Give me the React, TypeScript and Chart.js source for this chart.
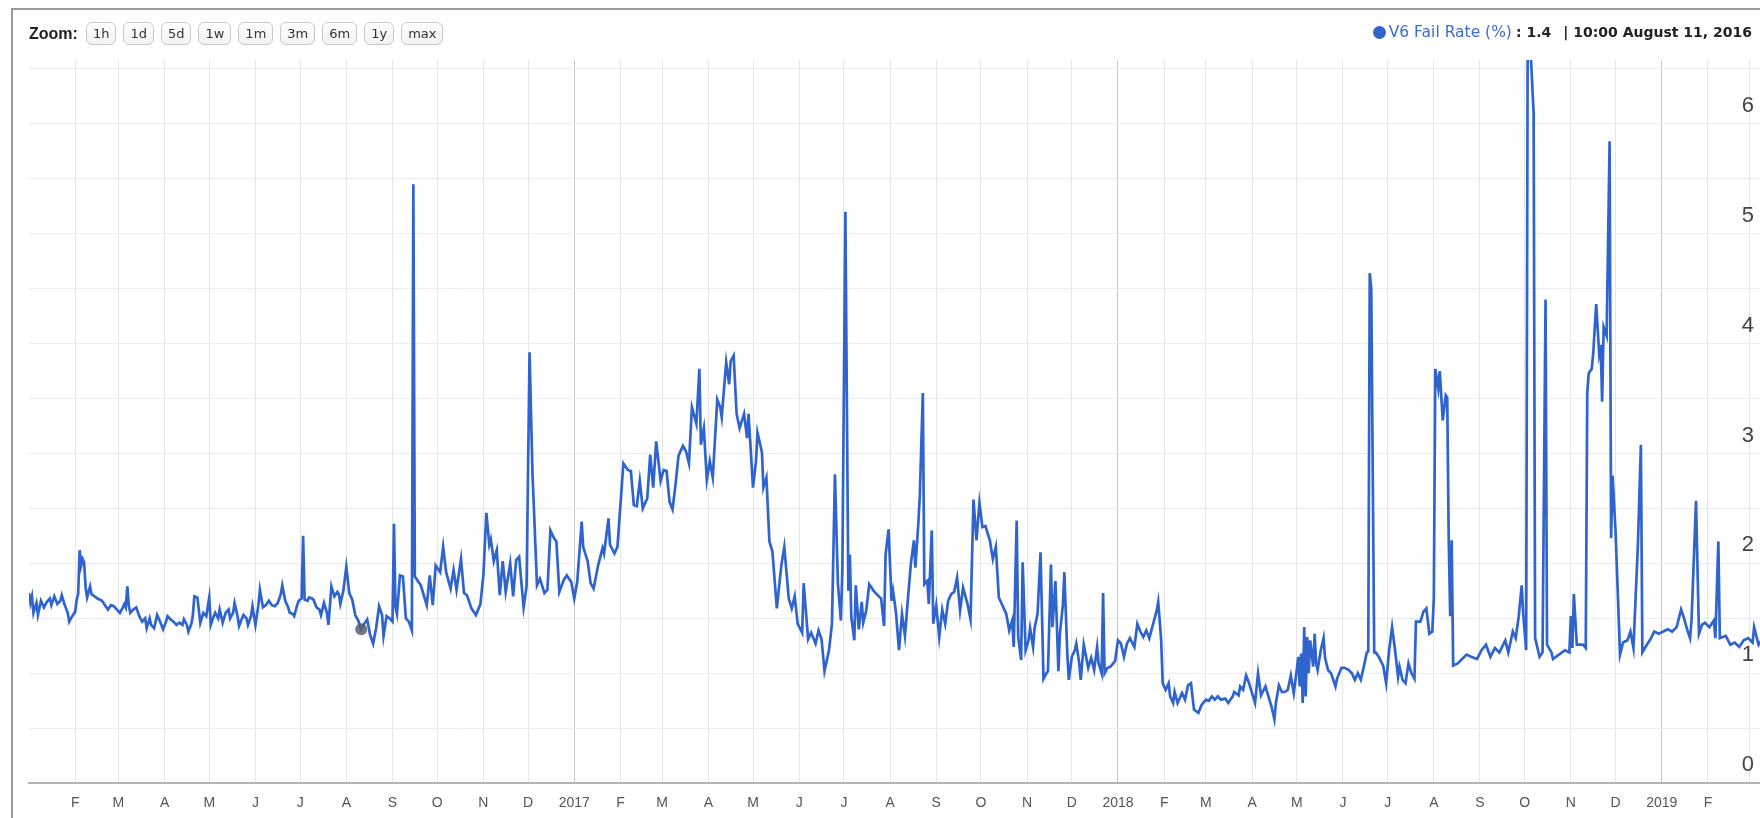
import React, { useEffect, useRef } from 'react';
import { Chart, registerables } from 'chart.js';

Chart.register(...registerables);

// ---- data: [day offset since 2016-01-01, V6 fail rate %] ----
const data2016a: [number, number][] = [
  [0,1.73],[1,1.64],[2,1.70],[3,1.55],[5,1.64],[6,1.53],[8,1.66],[10,1.60],[12,1.65],[14,1.68],[15,1.62],[17,1.70],[19,1.63],[21,1.66],[22,1.71],[24,1.62],[26,1.55],[27,1.47],[29,1.52],[31,1.56],[32,1.67],[33,1.72],[34,2.12],[35,1.98],[36,2.04],[37,2.01],[38,1.78],[39,1.69],[41,1.79],[42,1.72],[44,1.70],[46,1.68],[49,1.66],[51,1.62],[53,1.58],[55,1.62],[57,1.61],[59,1.58],[61,1.55],[63,1.60],[64,1.63],[65,1.60],[66,1.79],[67,1.62],[68,1.55],[70,1.58],[72,1.60],[74,1.52],[76,1.47],[78,1.50],[79,1.41],[81,1.50],[82,1.44],[84,1.41],[86,1.53],[88,1.47],[90,1.40],[92,1.47],[93,1.52],[95,1.49],[97,1.47],[99,1.44],[101,1.46],[103,1.44],[104,1.49],[106,1.44],[107,1.38],[109,1.45],[110,1.53],[111,1.70],[113,1.69],[114,1.58],[115,1.46],[117,1.55],[119,1.52],[121,1.69],[122,1.44],[124,1.52],[125,1.55],[127,1.50],[128,1.58],[130,1.46],[132,1.55],[134,1.58],[135,1.50],[137,1.55],[138,1.64],[140,1.52],[141,1.43],[143,1.50],[144,1.53],[146,1.50],[147,1.44],[149,1.52],[150,1.61],[152,1.44],[154,1.62],[155,1.76],[157,1.60],[159,1.62],[161,1.66],[163,1.62],[165,1.61],[167,1.64],[169,1.72],[170,1.80],[172,1.66],[174,1.60],[175,1.55],[177,1.54],[178,1.52],[180,1.62],[181,1.66],[183,1.68],
];
const data2016b: [number, number][] = [
  [184,2.25],[185,1.67],[187,1.66],[188,1.69],[190,1.68],[191,1.67],[193,1.60],[195,1.58],[196,1.53],[198,1.64],[200,1.55],[201,1.44],[203,1.79],[205,1.70],[207,1.74],[208,1.72],[209,1.63],[211,1.75],[213,1.97],[215,1.73],[217,1.67],[219,1.53],[221,1.48],[222,1.44],[223,1.40],[225,1.45],[227,1.49],[229,1.35],[231,1.27],[233,1.41],[235,1.61],[237,1.53],[238,1.34],[240,1.52],[242,1.50],[244,1.47],[245,2.36],[246,1.60],[247,1.54],[249,1.89],[251,1.88],[253,1.50],[255,1.47],[257,1.39],[258,5.45],[259,1.88],[263,1.80],[267,1.62],[269,1.89],[271,1.62],[273,1.98],[276,1.92],[278,2.15],[280,1.92],[283,1.77],[285,1.94],[287,1.76],[290,2.04],[292,1.73],[294,1.71],[297,1.59],[300,1.53],[303,1.63],[305,1.89],[307,2.46],[309,2.17],[310,2.22],[312,2.02],[314,2.12],[316,1.71],[318,2.02],[320,1.74],[323,2.00],[325,1.70],[327,2.03],[329,2.06],[332,1.60],[334,1.79],[336,3.92],[338,2.81],[341,1.80],[343,1.86],[346,1.73],[348,1.76],[350,2.30],[352,2.24],[354,2.20],[356,1.74],[359,1.85],[361,1.89],[364,1.83],
];
const data2017a: [number, number][] = [
  [366,1.68],[368,1.83],[371,2.38],[372,2.15],[375,2.02],[377,1.82],[379,1.77],[382,1.98],[385,2.14],[386,2.09],[389,2.41],[390,2.17],[393,2.09],[395,2.15],[397,2.53],[399,2.91],[402,2.85],[404,2.84],[406,2.53],[408,2.52],[410,2.75],[412,2.50],[415,2.59],[417,2.99],[419,2.69],[421,3.11],[424,2.75],[426,2.85],[428,2.84],[430,2.56],[432,2.49],[434,2.72],[436,2.98],[439,3.07],[441,3.02],[443,2.91],[445,3.42],[448,3.27],[450,3.77],[451,3.08],[453,3.23],[455,2.76],[457,2.93],[459,2.78],[462,3.49],[464,3.42],[465,3.33],[468,3.83],[470,3.63],[471,3.84],[473,3.89],[475,3.36],[477,3.23],[480,3.36],[482,3.14],[483,3.36],[486,2.69],[488,2.93],[489,3.19],[492,3.01],[493,2.69],[495,2.78],[497,2.20],[499,2.11],[502,1.59],[505,1.98],[507,2.15],[510,1.68],[512,1.59],[514,1.70],[516,1.45],[519,1.37],[520,1.82],[523,1.31],[525,1.37],[528,1.27],[530,1.39],[532,1.31],[534,1.02],[537,1.21],[539,1.45],[541,2.81],[543,1.81],[545,1.48],
];
const data2017b: [number, number][] = [
  [546,1.96],[548,5.2],[550,1.75],[551,2.08],[552,1.51],[554,1.30],[555,1.80],[557,1.40],[559,1.65],[560,1.46],[562,1.57],[564,1.81],[567,1.75],[569,1.72],[572,1.68],[574,1.43],[575,2.08],[577,2.31],[579,1.66],[580,1.75],[582,1.55],[584,1.21],[586,1.54],[588,1.34],[590,1.68],[592,2.00],[594,2.21],[595,1.96],[597,2.37],[598,2.63],[600,3.55],[601,1.81],[603,1.84],[604,1.63],[606,2.30],[607,1.45],[609,1.62],[611,1.33],[613,1.58],[615,1.45],[617,1.66],[619,1.72],[621,1.74],[623,1.87],[625,1.57],[627,1.78],[630,1.63],[632,1.49],[634,2.58],[636,2.21],[638,2.55],[640,2.33],[642,2.34],[645,2.21],[647,2.04],[649,2.15],[651,1.69],[653,1.63],[656,1.54],[658,1.39],[660,1.48],[661,1.24],[663,2.39],[664,1.33],[666,1.12],[667,2.01],[669,1.21],[671,1.30],[672,1.41],[674,1.24],[675,1.41],[677,1.54],[679,2.10],[681,0.95],[683,1.00],[684,1.02],[686,1.99],[687,1.42],[689,1.84],[691,1.02],[692,1.36],[694,1.62],[695,1.92],[697,1.17],[698,0.94],[700,1.15],[702,1.21],[703,1.27],[705,1.09],[706,0.94],[708,1.26],[710,1.12],[711,1.05],[713,1.14],[715,1.03],[717,1.24],[718,1.09],[720,1.00],[721,1.73],[722,1.00],[724,1.05],[726,1.06],[729,1.11],
];
const data2018a: [number, number][] = [
  [731,1.30],[733,1.27],[735,1.15],[737,1.27],[739,1.32],[742,1.24],[744,1.45],[746,1.38],[748,1.33],[750,1.39],[752,1.32],[754,1.42],[757,1.57],[758,1.65],[760,1.30],[761,0.91],[763,0.85],[765,0.91],[766,0.79],[768,0.73],[769,0.83],[771,0.73],[774,0.82],[776,0.76],[778,0.89],[780,0.91],[782,0.67],[785,0.64],[787,0.71],[790,0.76],[792,0.75],[794,0.79],[796,0.76],[798,0.79],[800,0.76],[803,0.77],[805,0.73],[808,0.79],[809,0.83],[812,0.80],[813,0.88],[815,0.85],[817,0.98],[819,0.91],[821,0.82],[823,0.73],[825,1.00],[827,0.80],[830,0.88],[832,0.79],[834,0.70],[836,0.58],[837,0.73],[839,0.89],[841,0.83],[843,0.83],[845,0.85],[847,0.98],[849,0.82],[851,1.03],[852,1.15],[853,0.88],[854,1.18],[855,0.73],[856,1.42],[857,0.79],[858,1.33],[859,1.00],[860,1.30],[862,1.06],[863,1.36],[864,1.09],[865,1.03],[867,1.20],[869,1.32],[870,1.14],[872,1.03],[874,1.00],[877,0.88],[878,0.95],[881,1.05],[883,1.05],[886,1.03],[888,1.00],[890,0.94],[892,1.00],[894,0.94],[896,1.06],[898,1.19],[899,1.20],[900,4.64],[901,4.50],[903,1.19],[904,1.19],[906,1.15],[909,1.07],
];
const data2018b: [number, number][] = [
  [911,0.91],[913,1.21],[915,1.42],[917,1.21],[919,0.97],[920,1.06],[922,0.94],[924,0.91],[926,1.09],[928,1.00],[930,0.95],[931,1.47],[934,1.47],[936,1.56],[938,1.59],[940,1.36],[942,1.38],[943,1.68],[944,3.77],[946,3.59],[947,3.75],[949,3.30],[951,3.53],[952,3.51],[953,2.23],[954,1.52],[955,2.21],[956,1.07],[959,1.09],[962,1.13],[965,1.17],[968,1.15],[972,1.13],[975,1.21],[978,1.26],[981,1.15],[984,1.23],[987,1.19],[991,1.30],[993,1.19],[996,1.38],[998,1.32],[1000,1.52],[1002,1.80],[1003,1.54],[1005,1.21],[1006,6.70],[1008,6.65],[1010,6.10],[1011,1.32],[1014,1.15],[1016,1.19],[1018,4.40],[1019,1.26],[1022,1.19],[1023,1.13],[1027,1.17],[1031,1.21],[1034,1.19],[1035,1.52],[1036,1.23],[1037,1.72],[1039,1.26],[1043,1.26],[1045,1.23],[1046,3.55],[1047,3.73],[1049,3.77],[1050,3.91],[1052,4.36],[1054,3.91],[1055,3.99],[1056,3.47],[1057,4.15],[1059,4.07],[1061,5.84],[1062,2.23],[1063,2.80],[1065,2.29],[1068,1.17],[1070,1.28],[1073,1.30],[1075,1.38],[1077,1.23],[1080,2.17],[1082,3.08],[1083,1.19],[1086,1.26],[1088,1.30],[1091,1.38],[1094,1.36],
];
const data2019: [number, number][] = [
  [1097,1.38],[1100,1.40],[1103,1.38],[1106,1.42],[1109,1.58],[1111,1.50],[1113,1.40],[1115,1.32],[1116,1.48],[1119,2.57],[1121,1.36],[1123,1.44],[1125,1.46],[1128,1.42],[1131,1.48],[1132,1.32],[1134,2.20],[1135,1.32],[1139,1.34],[1142,1.26],[1145,1.28],[1148,1.24],[1151,1.30],[1154,1.32],[1157,1.28],[1158,1.42],[1161,1.26],[1163,1.30],
];

const seriesName = 'V6 Fail Rate (%)';
const hoverDay = 223;
const hoverValue = 1.4;
const hoverLabel = '10:00 August 11, 2016';
const zoomButtons = ['1h', '1d', '5d', '1w', '1m', '3m', '6m', '1y', 'max'];
const monthLetters = ['J', 'F', 'M', 'A', 'M', 'J', 'J', 'A', 'S', 'O', 'N', 'D'];
const years = [2016, 2017, 2018, 2019];
const yTicks = [0, 0.5, 1, 1.5, 2, 2.5, 3, 3.5, 4, 4.5, 5, 5.5, 6, 6.5];

const X_MAX = 1163.3;
const Y_MAX = 6.58;
const LINE_COLOR = '#2f64cf';

const START = Date.UTC(2016, 0, 1);
const monthTicks: { day: number; label: string; year: boolean }[] = [];
years.forEach((y) => {
  monthLetters.forEach((letter, m) => {
    const day = (Date.UTC(y, m, 1) - START) / 86400000;
    if (day <= 0 || day > X_MAX) return;
    const label = X_MAX - day < 15 ? '' : m === 0 ? String(y) : letter;
    monthTicks.push({ day, label, year: m === 0 });
  });
});

export default function App() {
  const ref = useRef<HTMLCanvasElement | null>(null);

  useEffect(() => {
    if (!ref.current) return;
    const all = [...data2016a, ...data2016b, ...data2017a, ...data2017b, ...data2018a, ...data2018b, ...data2019];
    const points = all.map(([x, y]) => ({ x, y }));
    const chart = new Chart(ref.current, {
      type: 'line',
      data: {
        datasets: [
          {
            label: seriesName,
            data: points,
            borderColor: LINE_COLOR,
            borderWidth: 2.7,
            pointRadius: 0,
            tension: 0,
            fill: false,
            order: 2,
          },
          {
            type: 'scatter',
            label: 'hover',
            data: [{ x: hoverDay, y: hoverValue }],
            pointRadius: 6,
            backgroundColor: 'rgba(88,94,110,0.85)',
            borderWidth: 0,
            order: 1,
          } as any,
        ],
      },
      options: {
        responsive: false,
        animation: false,
        events: [],
        layout: { padding: { left: 29, top: 60, right: 0, bottom: 0 } },
        plugins: { legend: { display: false }, tooltip: { enabled: false } },
        scales: {
          x: {
            type: 'linear',
            min: 0,
            max: X_MAX,
            afterBuildTicks: (axis: any) => {
              axis.ticks = monthTicks.map((t) => ({ value: t.day }));
            },
            ticks: {
              autoSkip: false,
              maxRotation: 0,
              padding: 12,
              color: '#555',
              font: { family: '"Liberation Sans", Arial, sans-serif', size: 14 },
              callback: (_v: any, i: number) => (monthTicks[i] ? monthTicks[i].label : ''),
            },
            grid: {
              drawTicks: false,
              lineWidth: 1,
              color: (ctx: any) => (monthTicks[ctx.index] && monthTicks[ctx.index].year ? '#c6c6c6' : '#e6e6e6'),
            },
            border: { display: true, color: '#b3b3b3', width: 2 },
          },
          y: {
            position: 'right',
            min: 0,
            max: Y_MAX,
            afterBuildTicks: (axis: any) => {
              axis.ticks = yTicks.map((v) => ({ value: v }));
            },
            ticks: {
              mirror: true,
              padding: -8,
              labelOffset: -18,
              color: '#444',
              font: { family: '"Liberation Sans", Arial, sans-serif', size: 22 },
              callback: (v: any) => (Number.isInteger(Number(v)) ? String(v) : ''),
            },
            grid: {
              drawTicks: false,
              lineWidth: 1,
              color: (ctx: any) => (ctx.tick && ctx.tick.value === 0 ? 'rgba(0,0,0,0)' : '#ebebf3'),
            },
            border: { display: false },
          },
        },
      },
    });
    return () => chart.destroy();
  }, []);

  const btn: React.CSSProperties = {
    display: 'inline-flex',
    alignItems: 'center',
    height: 21,
    padding: '0 6px',
    border: '1px solid #c8c8c8',
    borderRadius: 6,
    background: 'linear-gradient(#ffffff, #f2f2f2)',
    color: '#333',
    font: '13px "DejaVu Sans", sans-serif',
  };

  return (
    <div style={{ position: 'fixed', left: 0, top: 0, width: 1760, height: 818, overflow: 'hidden', background: '#fff' }}>
      <canvas ref={ref} width={1768} height={824} style={{ position: 'absolute', left: 0, top: 0, width: 1768, height: 824 }} />
      <div
        style={{
          position: 'absolute',
          left: 11,
          top: 8,
          width: 1900,
          height: 900,
          borderLeft: '2px solid #9a9a9a',
          borderTop: '2px solid #9a9a9a',
          pointerEvents: 'none',
        }}
      />
      <div style={{ position: 'absolute', left: 29, top: 22, height: 23, display: 'flex', alignItems: 'center', gap: 7 }}>
        <span style={{ font: 'bold 16px "Liberation Sans", Arial, sans-serif', color: '#222', marginRight: 1 }}>Zoom:</span>
        {zoomButtons.map((b) => (
          <span key={b} style={btn}>
            {b}
          </span>
        ))}
      </div>
      <div
        style={{
          position: 'absolute',
          right: 8,
          top: 23,
          height: 18,
          display: 'flex',
          alignItems: 'center',
          font: '14px "DejaVu Sans", sans-serif',
          whiteSpace: 'nowrap',
        }}
      >
        <span style={{ width: 13, height: 13, borderRadius: '50%', background: LINE_COLOR, display: 'inline-block', marginRight: 3 }} />
        <span style={{ color: '#3a6dd6', fontSize: 15.5 }}>{seriesName}</span>
        <span style={{ color: '#222', fontWeight: 'bold', marginLeft: 4 }}>: {hoverValue}</span>
        <span style={{ color: '#222', fontWeight: 'bold', marginLeft: 12 }}>| {hoverLabel}</span>
      </div>
    </div>
  );
}
